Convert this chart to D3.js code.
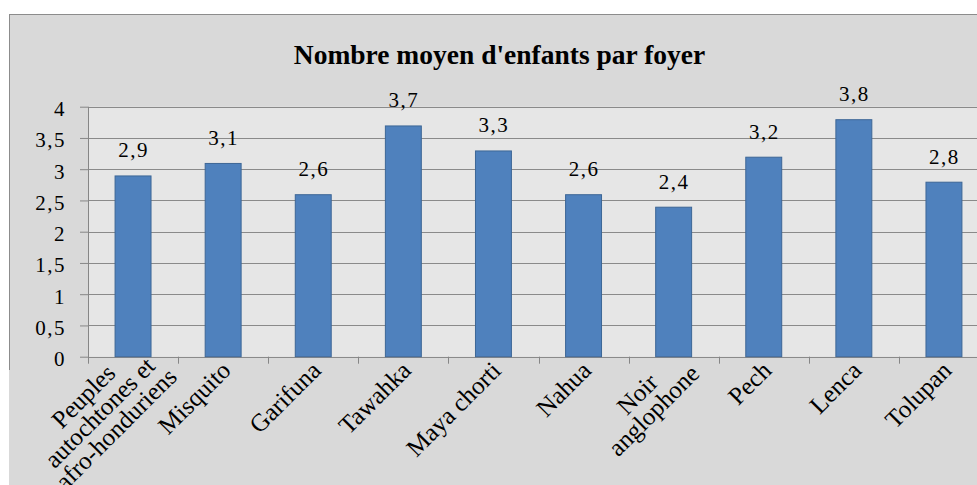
<!DOCTYPE html>
<html>
<head>
<meta charset="utf-8">
<script src="https://cdn.jsdelivr.net/npm/d3@7"></script>
<style>
  html, body { margin: 0; padding: 0; background: #ffffff; }
  svg { display: block; }
  text { font-family: "Liberation Serif", "Times New Roman", serif; fill: #000; }
</style>
</head>
<body>
<script>
// ---- Data ----
const chartTitle = "Nombre moyen d'enfants par foyer";
const categories = [
  "Peuples\nautochtones et\nafro-honduriens",
  "Misquito",
  "Garifuna",
  "Tawahka",
  "Maya chorti",
  "Nahua",
  "Noir\nanglophone",
  "Pech",
  "Lenca",
  "Tolupan"
];
const values = [2.9, 3.1, 2.6, 3.7, 3.3, 2.6, 2.4, 3.2, 3.8, 2.8];
const yTicks = [0, 0.5, 1, 1.5, 2, 2.5, 3, 3.5, 4];

// ---- Layout ----
const W = 977, H = 485;
const plot = { left: 88, right: 989, top: 106.7, bottom: 356.7 };
const fmt = v => String(v).replace(".", ",");

const svg = d3.select("body").append("svg").attr("width", W).attr("height", H);

// chart area background
svg.append("rect").attr("x", 9).attr("y", 14).attr("width", 1000).attr("height", 500).attr("fill", "#d9d9d9");
svg.append("line").attr("x1", 9).attr("x2", W).attr("y1", 14.5).attr("y2", 14.5).attr("stroke", "#8c8c8c");
svg.append("line").attr("x1", 9.5).attr("x2", 9.5).attr("y1", 14).attr("y2", 370).attr("stroke", "#8c8c8c");

const x = d3.scaleBand().domain(categories).range([plot.left, plot.right]).paddingInner(0.59).paddingOuter(0.295);
const y = d3.scaleLinear().domain([0, 4]).range([plot.bottom, plot.top]);

// plot area
svg.append("rect").attr("x", plot.left).attr("y", plot.top)
  .attr("width", plot.right - plot.left).attr("height", plot.bottom - plot.top).attr("fill", "#e6e6e6");

// gridlines + y axis
const yAxis = d3.axisLeft(y).tickValues(yTicks).tickFormat(fmt).tickSize(8).tickPadding(14);
const gy = svg.append("g").attr("transform", `translate(${plot.left},0)`).call(yAxis);
gy.select(".domain").remove();
gy.selectAll(".tick line").attr("stroke", "#868686");
gy.selectAll(".tick text").attr("font-size", 21).attr("letter-spacing", "1.5px")
  .attr("font-family", "Liberation Serif").attr("fill", "#000").attr("dy", "0.42em");

svg.append("g").selectAll("line").data(yTicks).join("line")
  .attr("x1", plot.left).attr("x2", plot.right)
  .attr("y1", d => Math.round(y(d)) + 0.5).attr("y2", d => Math.round(y(d)) + 0.5)
  .attr("stroke", "#8a8a8a");
svg.append("line").attr("x1", plot.left + 0.5).attr("x2", plot.left + 0.5)
  .attr("y1", plot.top).attr("y2", plot.bottom + 7).attr("stroke", "#868686");

// category tick marks
const step = x.step();
svg.append("g").selectAll("line").data(d3.range(1, categories.length + 1)).join("line")
  .attr("x1", i => Math.round(plot.left + i * step) + 0.5)
  .attr("x2", i => Math.round(plot.left + i * step) + 0.5)
  .attr("y1", plot.bottom).attr("y2", plot.bottom + 7)
  .attr("stroke", "#868686");

// bars
svg.append("g").selectAll("rect").data(values).join("rect")
  .attr("x", (d, i) => x(categories[i]) + 0.5)
  .attr("y", d => y(d) + 0.5)
  .attr("width", x.bandwidth() - 1)
  .attr("height", d => plot.bottom - y(d) - 0.5)
  .attr("fill", "#4f81bd").attr("stroke", "#3d6696").attr("stroke-width", 1);

// data labels
svg.append("g").selectAll("text").data(values).join("text")
  .attr("x", (d, i) => x(categories[i]) + x.bandwidth() / 2 + 0.5)
  .attr("y", d => y(d) - 18)
  .attr("text-anchor", "middle")
  .attr("font-size", 21).attr("letter-spacing", "1.5px")
  .text(fmt);

// title
svg.append("text").attr("x", 499.5).attr("y", 64).attr("text-anchor", "middle")
  .attr("font-size", 27.5).attr("font-weight", "bold").text(chartTitle);

// category labels (rotated -45)
const lh = 23;
categories.forEach((c, i) => {
  const lines = c.split("\n");
  const n = lines.length;
  const cx = x(c) + x.bandwidth() / 2;
  const px = cx + 2.8 + 10 * (n - 1);
  const py = 365.8 - 5 * (n - 1);
  const g = svg.append("g").attr("transform", `translate(${px},${py}) rotate(-45)`);
  const t = g.append("text").attr("font-size", 25);
  const spans = lines.map(l => t.append("tspan").text(l));
  const widths = spans.map(s => s.node().getComputedTextLength());
  const Wm = d3.max(widths);
  spans.forEach((s, j) => s.attr("x", -Wm / 2).attr("y", (j - (n - 1) / 2) * lh)
    .attr("dy", "0.35em").attr("text-anchor", "middle"));
});
</script>
</body>
</html>
